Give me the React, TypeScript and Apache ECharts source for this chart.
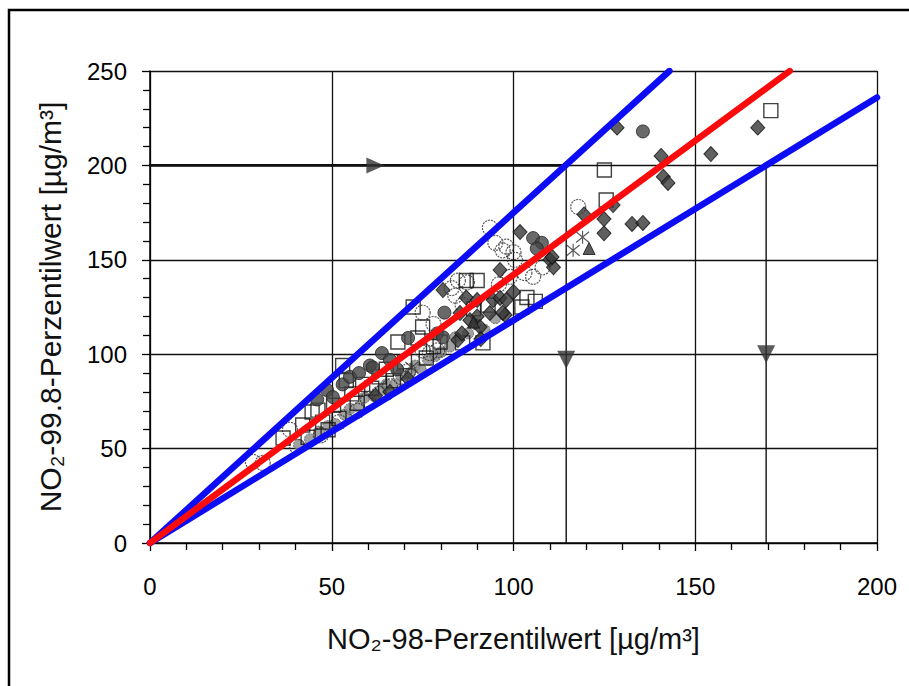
import React, { useEffect, useRef } from "react";
import * as echarts from "echarts";

// ---- data ----
const xTicks = [0, 50, 100, 150, 200];
const yTicks = [0, 50, 100, 150, 200, 250];

const squarePts = [
  [36.6, 55.6], [42, 62.5], [43.5, 56], [44.6, 69.4], [46.2, 70.4], [47.5, 64], [49, 60],
  [50.5, 73], [52, 66], [53, 94], [54, 86], [55.5, 79], [57, 74], [58.5, 84], [61, 82],
  [63, 88], [65, 92], [67, 86], [68.2, 106.5], [70, 96], [72.4, 125], [73.7, 108.6],
  [75, 114.4], [76, 98], [78, 104], [79.8, 106.5], [86, 106], [87, 139], [90, 139],
  [91.6, 106], [89, 124], [93, 126], [102.3, 125], [103.7, 130], [106, 128],
  [125.5, 181.7], [125, 197.6], [170.8, 229],
];
const circlePts = [
  [28.3, 43], [31, 42.4], [38.5, 60], [40.5, 51], [47, 57], [52, 64], [57, 70], [60, 76],
  [63, 79], [66, 83], [69, 88], [71, 91], [75, 102], [77, 100.6], [75, 122], [78, 116],
  [79, 102], [83, 135], [84, 131], [84.7, 139], [87.2, 138], [86, 126], [93.5, 167],
  [95, 159], [97, 155], [98, 157], [100, 154], [100.4, 150], [103, 143], [105.4, 141],
  [108, 146], [117.8, 178], [96, 137], [99, 141],
];
const diamondPts = [
  [62, 78], [66, 80], [71, 87], [80.6, 134], [85.3, 121.8], [84.7, 107.5], [85.8, 111],
  [87, 130], [90, 128.7], [90, 120], [90.8, 114.4], [93.5, 121.8], [94.4, 128.7],
  [96.3, 129.8], [96.3, 144.6], [97.7, 120.8], [98, 128.7], [100, 133], [97, 122],
  [101.8, 164.7], [110, 150], [111, 146], [110.6, 151.5], [119.4, 174], [124.9, 171.6],
  [124.9, 164], [127.4, 179], [128.5, 220], [132.6, 169], [135.6, 169.5], [140.6, 205],
  [141.2, 194], [142.5, 190.7], [154.3, 206], [167.2, 220], [91, 108], [88, 118],
];
const filledCirclePts = [
  [48.7, 81], [50.3, 77.3], [53, 84], [55, 88], [57.5, 90], [60.5, 94], [61.3, 93],
  [63.8, 100.6], [66, 97], [71, 108.6], [79, 111], [80.6, 109], [81, 122], [105.4, 161.5],
  [107.8, 159], [106.4, 156], [135.6, 218], [68, 92], [46, 76],
];
const grayPts = [
  [41, 52], [44, 55], [46.5, 59], [49, 62], [51, 63], [53.5, 68], [55, 71], [57.5, 72],
  [59, 77], [61.5, 78], [63.5, 81], [65, 84], [67.5, 84], [69, 89], [71.5, 90], [73, 94],
  [74.5, 92], [76.5, 97], [78.5, 99], [80, 101], [82.5, 104], [84, 109], [87.5, 111],
  [89.5, 116], [92, 113], [95, 119],
];
const trianglePts = [[120.8, 156], [89, 117]];
const starPts = [[116.4, 155], [119, 162], [72, 93]];

const upperLine = [[0, 0], [142.9, 250]];
const meanLine = [[0, 0], [176, 250]];
const lowerLine = [[0, 0], [200, 236]];

const limitLine = [[0, 200], [114.5, 200]];
const dropLineA = [[114.5, 200], [114.5, 0]];
const dropLineB = [[169.5, 200], [169.5, 0]];
const arrowRight = [[62, 200]];
const arrowDown = [[114.5, 97], [169.5, 100]];

const xTitle = "NO₂-98-Perzentilwert [µg/m³]";
const yTitle = "NO₂-99.8-Perzentilwert [µg/m³]";

const FONT = "'Liberation Sans', Arial, sans-serif";

export default function App() {
  const ref = useRef<HTMLDivElement>(null);
  useEffect(() => {
    document.body.style.margin = "0";
    const chart = echarts.init(ref.current!, null, { renderer: "svg" });
    const scatterBase = { type: "scatter", z: 2, silent: true };
    const lineBase = (data: number[][], color: string, width: number, z = 5) => ({
      type: "line",
      data,
      symbol: "none",
      z,
      silent: true,
      lineStyle: { color, width, cap: "round" },
    });
    chart.setOption({
      animation: false,
      backgroundColor: "#fff",
      grid: { left: 150, right: 32, top: 71, bottom: 143 },
      graphic: [
        {
          type: "rect",
          shape: { x: 9, y: 10, width: 940, height: 720 },
          style: { fill: "none", stroke: "#000", lineWidth: 2.5 },
          z: 0,
        },
      ],
      xAxis: {
        type: "value",
        min: 0,
        max: 200,
        interval: 50,
        name: xTitle,
        nameLocation: "middle",
        nameGap: 81,
        nameTextStyle: { fontFamily: FONT, fontSize: 29, color: "#111" },
        axisLine: { show: true, lineStyle: { color: "#000", width: 1.5 } },
        axisTick: { show: true, length: 8, inside: false, lineStyle: { color: "#000", width: 1.3 } },
        minorTick: { show: true, splitNumber: 5, length: 7, lineStyle: { color: "#000", width: 1.3 } },
        splitLine: { show: true, lineStyle: { color: "#111", width: 1.3 } },
        axisLabel: {
          margin: 31,
          fontFamily: FONT,
          fontSize: 24,
          color: "#000",
          customValues: xTicks,
        },
      },
      yAxis: {
        type: "value",
        min: 0,
        max: 250,
        interval: 50,
        name: yTitle,
        nameLocation: "middle",
        nameGap: 85,
        nameTextStyle: { fontFamily: FONT, fontSize: 30, color: "#111" },
        axisLine: { show: true, lineStyle: { color: "#000", width: 1.5 } },
        axisTick: { show: true, length: 8, lineStyle: { color: "#000", width: 1.3 } },
        minorTick: { show: true, splitNumber: 5, length: 7, lineStyle: { color: "#000", width: 1.3 } },
        splitLine: { show: true, lineStyle: { color: "#111", width: 1.3 } },
        axisLabel: {
          margin: 23,
          fontFamily: FONT,
          fontSize: 24,
          color: "#000",
          customValues: yTicks,
        },
      },
      series: [
        lineBase(limitLine, "#111", 2.6, 3),
        lineBase(dropLineA, "#111", 1.4, 3),
        lineBase(dropLineB, "#111", 1.4, 3),
        {
          ...scatterBase,
          data: grayPts,
          symbol: "circle",
          symbolSize: 11,
          itemStyle: { color: "#8a8a8a", borderColor: "#555", borderWidth: 1, borderType: [2, 1] },
        },
        {
          ...scatterBase,
          data: circlePts,
          symbol: "circle",
          symbolSize: 15,
          itemStyle: { color: "rgba(255,255,255,0)", borderColor: "#333", borderWidth: 1.2, borderType: [2, 1] },
        },
        {
          ...scatterBase,
          data: squarePts,
          symbol: "rect",
          symbolSize: 14,
          itemStyle: { color: "rgba(255,255,255,0)", borderColor: "#111", borderWidth: 1.4 },
        },
        {
          ...scatterBase,
          data: filledCirclePts,
          symbol: "circle",
          symbolSize: 13,
          itemStyle: { color: "#444", borderColor: "#222", borderWidth: 1 },
        },
        {
          ...scatterBase,
          data: diamondPts,
          symbol: "diamond",
          symbolSize: [14, 15],
          itemStyle: { color: "#383838", borderColor: "#111", borderWidth: 1 },
        },
        {
          ...scatterBase,
          data: trianglePts,
          symbol: "triangle",
          symbolSize: 12,
          itemStyle: { color: "#333", borderColor: "#111", borderWidth: 1 },
        },
        {
          ...scatterBase,
          data: starPts,
          symbol: "path://M0,0L10,10M10,0L0,10M5,-1L5,11",
          symbolSize: 13,
          itemStyle: { color: "none", borderColor: "#333", borderWidth: 1.2 },
        },
        lineBase(upperLine, "#0c0cf5", 6.5),
        lineBase(lowerLine, "#0c0cf5", 6.5),
        lineBase(meanLine, "#fa0c0c", 6.5, 6),
        {
          ...scatterBase,
          z: 7,
          data: arrowRight,
          symbol: "triangle",
          symbolRotate: -90,
          symbolSize: [16, 18],
          itemStyle: { color: "#333" },
        },
        {
          ...scatterBase,
          z: 7,
          data: arrowDown,
          symbol: "triangle",
          symbolRotate: 180,
          symbolSize: [18, 18],
          itemStyle: { color: "#333" },
        },
      ],
    });
    return () => chart.dispose();
  }, []);
  return <div ref={ref} style={{ width: 909, height: 686 }} />;
}
